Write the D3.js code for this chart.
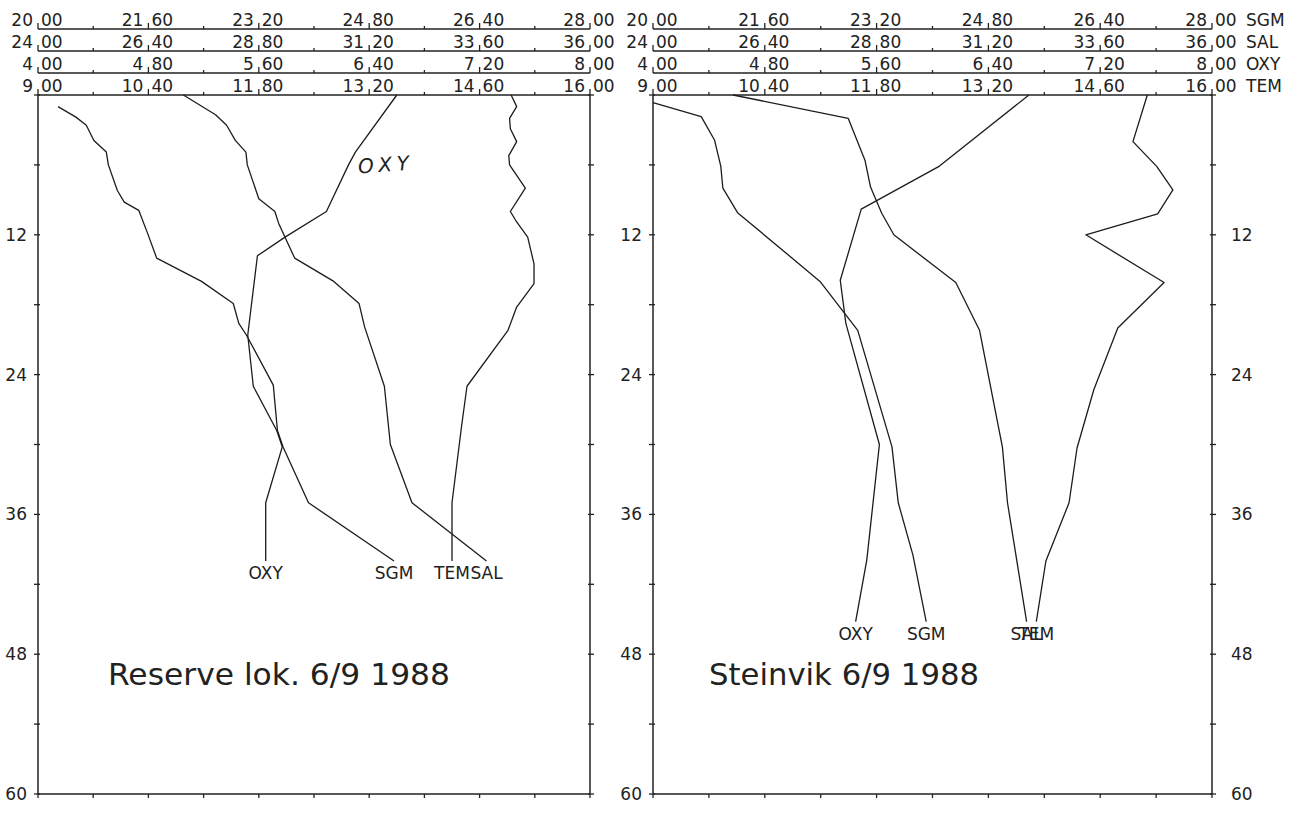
<!DOCTYPE html>
<html><head><meta charset="utf-8">
<script src="https://cdn.jsdelivr.net/npm/d3@7"></script>
<style>body{margin:0;background:#fff}svg{display:block}text{font-family:"DejaVu Sans",sans-serif;fill:#222}</style>
</head><body><svg id="c" width="1296" height="813"></svg>
<script>
// ---- axis tick labels ----
const sgmTicks = ["20,00","21,60","23,20","24,80","26,40","28,00"];
const salTicks = ["24,00","26,40","28,80","31,20","33,60","36,00"];
const oxyTicks = ["4,00","4,80","5,60","6,40","7,20","8,00"];
const temTicks = ["9,00","10,40","11,80","13,20","14,60","16,00"];
const rowNames = ["SGM","SAL","OXY","TEM"];
const depthLabels = [12,24,36,48,60];
const depthMinor = [0,6,12,18,24,30,36,42,48,54,60];

// ---- Reserve lok. 6/9 1988 ----
const resSgmDepth = [1.0,1.9,2.6,3.9,4.9,6.0,8.2,9.2,9.9,11.9,14.0,16.0,17.9,19.6,20.6,24.9,28.8,30.2,35.0,40.0];
const resSgm      = [20.29,20.55,20.70,20.81,20.99,21.02,21.15,21.25,21.46,21.59,21.72,22.37,22.83,22.91,23.02,23.41,23.47,23.55,23.92,25.16];
const resSalDepth = [0,1.7,2.6,3.9,4.9,6.0,8.9,10.0,11.0,12.3,14.0,16.0,17.9,19.9,25.0,30.0,35.0,40.0];
const resSal      = [27.16,27.86,28.10,28.29,28.52,28.55,28.80,29.15,29.23,29.38,29.58,30.43,30.98,31.10,31.53,31.66,32.13,33.75];
const resTemDepth = [0,1.0,2.0,2.9,4.0,5.2,6.0,8.0,10.0,10.9,12.2,14.5,16.2,18.2,20.2,25.0,28.5,35.0,40.0];
const resTem      = [15.00,15.07,14.98,14.99,15.07,14.97,14.98,15.18,14.99,15.07,15.21,15.29,15.29,15.07,14.96,14.44,14.37,14.25,14.25];
const resOxyDepth = [0,4.9,6.0,10.0,12.2,13.8,20.6,25.0,28.8,30.2,35.0,40.0];
const resOxy      = [6.60,6.30,6.25,6.09,5.79,5.59,5.52,5.56,5.73,5.77,5.65,5.65];

// ---- Steinvik 6/9 1988 ----
const steSgmDepth = [0.66,1.86,3.86,6.1,8.0,10.1,16.0,20.2,30.2,35.0,39.5,45.2];
const steSgm      = [20.00,20.69,20.88,20.97,21.00,21.21,22.39,22.93,23.42,23.51,23.72,23.91];
const steSalDepth = [0,2.0,5.6,7.9,10.15,12.0,16.1,20.2,30.2,35.0,45.2];
const steSal      = [25.72,28.19,28.55,28.67,28.91,29.17,30.50,31.01,31.50,31.61,32.02];
const steTemDepth = [0,4.0,6.15,8.15,10.2,12.0,16.1,20.0,25.3,30.3,35.0,40.0,45.2];
const steTem      = [15.19,15.01,15.31,15.51,15.32,14.42,15.40,14.82,14.52,14.31,14.21,13.92,13.80];
const steOxyDepth = [0,6.1,9.8,15.9,19.6,30.0,39.9,45.2];
const steOxy      = [6.69,6.05,5.49,5.34,5.38,5.62,5.53,5.45];

const titles = ["Reserve lok. 6/9 1988","Steinvik 6/9 1988"];

// ---- layout ----
const svg = d3.select("#c");
const ink = "#222";
const y = d3.scaleLinear().domain([0,60]).range([95,794]);
const rowY = [29,51,73,95];
const parse = s => +s.replace(",", ".");
const rowTicks = [sgmTicks, salTicks, oxyTicks, temTicks];

const panels = [
  {x0:38, x1:590, title:titles[0], tx:108, tlen:342, right:false, names:false,
   series:[
     {key:"OXY", d:resOxyDepth, v:resOxy, row:2},
     {key:"SGM", d:resSgmDepth, v:resSgm, row:0},
     {key:"TEM", d:resTemDepth, v:resTem, row:3},
     {key:"SAL", d:resSalDepth, v:resSal, row:1}]},
  {x0:653, x1:1212, title:titles[1], tx:709, tlen:270, right:true, names:true,
   series:[
     {key:"OXY", d:steOxyDepth, v:steOxy, row:2},
     {key:"SGM", d:steSgmDepth, v:steSgm, row:0},
     {key:"SAL", d:steSalDepth, v:steSal, row:1},
     {key:"TEM", d:steTemDepth, v:steTem, row:3}]}
];

panels.forEach(p => {
  const g = svg.append("g");
  const xs = rowTicks.map(t => d3.scaleLinear().domain([parse(t[0]), parse(t[t.length-1])]).range([p.x0, p.x1]));

  // header axes
  rowTicks.forEach((ticks, r) => {
    const ry = rowY[r], sc = xs[r];
    g.append("line").attr("x1",p.x0).attr("x2",p.x1).attr("y1",ry).attr("y2",ry)
      .attr("stroke",ink).attr("stroke-width",1.4);
    const [a,b] = sc.domain();
    d3.range(11).forEach(i => {
      const v = a + i*(b-a)/10, xx = sc(v);
      g.append("line").attr("x1",xx).attr("x2",xx).attr("y1",ry).attr("y2", ry-(i%2===0?6:3))
        .attr("stroke",ink).attr("stroke-width",1.3);
    });
    ticks.forEach(t => {
      const xx = sc(parse(t)), parts = t.split(",");
      g.append("text").attr("x",xx-5).attr("y",ry-3).attr("text-anchor","end")
        .attr("font-size",17).text(parts[0]);
      g.append("text").attr("x",xx+3).attr("y",ry-3).attr("text-anchor","start")
        .attr("font-size",17).text(parts[1]);
    });
    if (p.names) {
      g.append("text").attr("x",p.x1+34).attr("y",ry-3).attr("font-size",17).text(rowNames[r]);
    }
  });

  // frame
  g.append("line").attr("x1",p.x0).attr("x2",p.x0).attr("y1",y(0)).attr("y2",y(60)).attr("stroke",ink).attr("stroke-width",1.5);
  g.append("line").attr("x1",p.x1).attr("x2",p.x1).attr("y1",y(0)).attr("y2",y(60)).attr("stroke",ink).attr("stroke-width",1.5);
  g.append("line").attr("x1",p.x0).attr("x2",p.x1).attr("y1",y(60)).attr("y2",y(60)).attr("stroke",ink).attr("stroke-width",1.6);
  // bottom ticks
  const xb = xs[3];
  const [ba,bb] = xb.domain();
  d3.range(11).forEach(i => {
    const xx = xb(ba + i*(bb-ba)/10);
    g.append("line").attr("x1",xx).attr("x2",xx).attr("y1",y(60)).attr("y2",y(60)+4).attr("stroke",ink).attr("stroke-width",1.3);
  });
  // depth ticks
  depthMinor.forEach(d => {
    g.append("line").attr("x1",p.x0-4).attr("x2",p.x0+2).attr("y1",y(d)).attr("y2",y(d)).attr("stroke",ink).attr("stroke-width",1.3);
    g.append("line").attr("x1",p.x1-2).attr("x2",p.x1+4).attr("y1",y(d)).attr("y2",y(d)).attr("stroke",ink).attr("stroke-width",1.3);
  });
  depthLabels.forEach(d => {
    g.append("text").attr("x",p.x0-11).attr("y",y(d)+6).attr("text-anchor","end").attr("font-size",17).text(d);
    if (p.right) g.append("text").attr("x",p.x1+19).attr("y",y(d)+6).attr("font-size",17).text(d);
  });

  // curves
  p.series.forEach(s => {
    const sc = xs[s.row];
    const pts = s.d.map((d,i) => [sc(s.v[i]), y(d)]);
    g.append("path").attr("d", d3.line()(pts)).attr("fill","none")
      .attr("stroke","#1c1c1c").attr("stroke-width",1.3).attr("stroke-linejoin","round");
    const last = pts[pts.length-1];
    g.append("text").attr("x",last[0]).attr("y",last[1]+18).attr("text-anchor","middle")
      .attr("font-size",17).text(s.key);
  });

  // title
  g.append("text").attr("x",p.tx).attr("y",685).attr("font-size",31)
    .attr("textLength",p.tlen).attr("lengthAdjust","spacingAndGlyphs").text(p.title);
});

// handwritten annotation
svg.append("text").attr("x",358).attr("y",172).attr("font-size",20).attr("font-style","italic")
  .attr("font-weight",300).attr("letter-spacing",5).attr("transform","rotate(-4 380 165)").text("OXY");
</script></body></html>
